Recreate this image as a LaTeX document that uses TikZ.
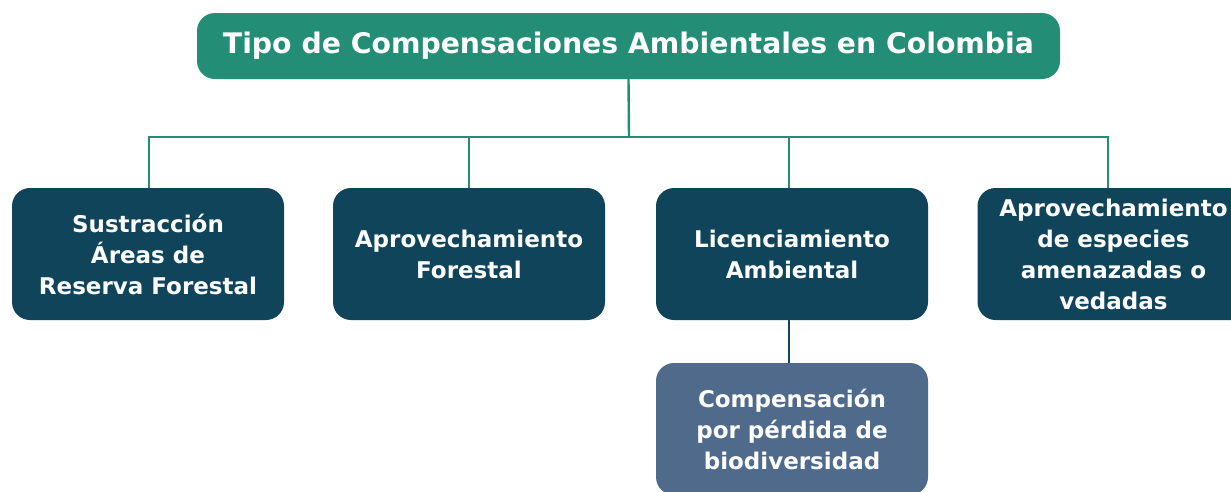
\documentclass[tikz,border=0pt]{standalone}
\usepackage{fontspec}
\setmainfont{DejaVu Sans}
\usetikzlibrary{positioning}
\definecolor{tipogreen}{RGB}{35,142,117}
\definecolor{tipodark}{RGB}{16,68,90}
\definecolor{tipoblue}{RGB}{80,106,140}
\tikzset{
  titlebox/.style={fill=tipogreen, rounded corners=18pt, text=white, font=\fontsize{28.3}{32}\selectfont\bfseries,
    minimum width=863pt, minimum height=66pt, inner sep=0pt},
  typebox/.style={fill=tipodark, rounded corners=18pt, text=white, font=\fontsize{23}{31}\selectfont\bfseries,
    minimum width=272pt, minimum height=132pt, inner sep=0pt, align=center},
  subbox/.style={typebox, fill=tipoblue},
  greenline/.style={draw=tipogreen, line width=2.4pt},
  darkline/.style={draw=tipodark, line width=2.8pt}
}
\begin{document}
\begin{tikzpicture}[x=1pt, y=-1pt]
      \useasboundingbox (0,0) rectangle (1231,491);
      \clip (0,0) rectangle (1231,491);

      \node[titlebox] (tipo) at (628.5,46) {Tipo de Compensaciones Ambientales en Colombia};
      \node[typebox] (b1) at (148,254) {Sustracción\\Áreas de\\Reserva Forestal};
      \node[typebox] (b2) at (469,254) {Aprovechamiento\\Forestal};
      \node[typebox] (b3) at (792,254) {Licenciamiento\\Ambiental};
      \node[typebox] (b4) at (1113.5,254) {Aprovechamiento\\de especies\\amenazadas o\\vedadas};
      \node[subbox] (c) at (792,429) {Compensación\\por pérdida de\\biodiversidad};
      \coordinate (bus) at (629,137);

      \draw[greenline] (tipo.south) -- (bus);
      \draw[greenline] ([xshift=1pt]b1.north) |- (bus -| 1108,0) -- (1108,0 |- b4.north);
      \draw[greenline] (b2.north) -- (b2.north |- bus);
      \draw[greenline] ([xshift=-3pt]b3.north) -- ([xshift=-3pt]b3.north |- bus);
      \draw[darkline] ([xshift=-3pt]b3.south) -- ([xshift=-3pt]c.north);
    \end{tikzpicture}
\end{document}
